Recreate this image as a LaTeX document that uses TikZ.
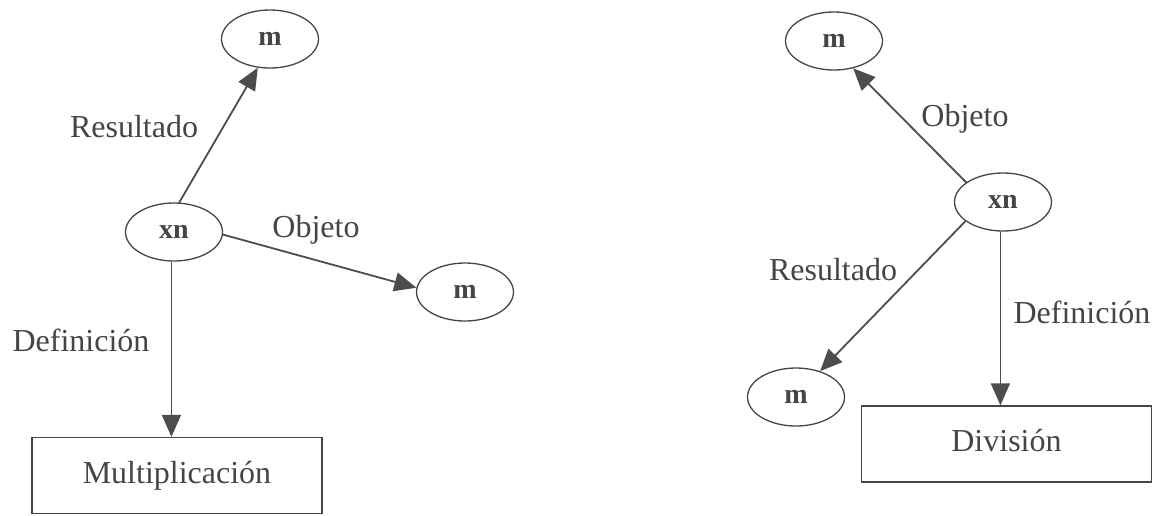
\documentclass[tikz,border=0pt]{standalone}
\usepackage{fontspec}
\setmainfont{Liberation Serif}
\usetikzlibrary{shapes.geometric,arrows.meta}
\definecolor{ink}{HTML}{454545}
\definecolor{wire}{HTML}{4d4d4d}
\tikzset{
  concept/.style={ellipse, draw=ink, line width=1.3pt, minimum width=97pt,
    minimum height=58pt, inner sep=0pt, text=ink,
    font=\fontsize{28}{32}\selectfont\bfseries},
  opbox/.style={rectangle, draw=ink, line width=1.3pt, minimum width=290pt,
    minimum height=76pt, inner sep=0pt, text=ink,
    font=\fontsize{32}{38}\selectfont},
  rel/.style={draw=wire, line width=1.8pt,
    -{Triangle[length=22pt, width=19pt]}},
  tag/.style={text=ink, inner sep=0pt, font=\fontsize{32}{38}\selectfont}
}
\begin{document}
\begin{tikzpicture}[x=1pt, y=-1pt]
  \useasboundingbox (0,0) rectangle (1159,515);

  % Multiplication: xn relates two m terms
  \node[concept] (xnA) at (174,232) {xn};
  \node[concept] (mA1) at (270,39) {m};
  \node[concept] (mA2) at (465,292) {m};
  \node[opbox] (mult) at (177,475.5) {\raisebox{7pt}{Multiplicación}};
  \draw[rel] (xnA.80) -- (mA1.247);
  \draw[rel] (xnA.-3) -- (mA2.175);
  \draw[rel] (xnA.265) -- (xnA.265 |- mult.north);
  \node[tag] at (134,127) {Resultado};
  \node[tag] at (316,230) {Objeto};
  \node[tag] at (81,340) {Definición};

  % Division: xn relates two m terms
  \node[concept] (xnB) at (1003,202) {xn};
  \node[concept] (mB1) at (834,41) {m};
  \node[concept] (mB2) at (796,397) {m};
  \node[opbox] (divi) at (1006.5,444) {\raisebox{7pt}{División}};
  \draw[rel] (xnB.152) -- (mB1.305);
  \draw[rel] (xnB.207) -- (mB2.47);
  \draw[rel] (xnB.265) -- (xnB.265 |- divi.north);
  \node[tag] at (965,119) {Objeto};
  \node[tag] at (833,270) {Resultado};
  \node[tag] at (1082,312) {Definición};
\end{tikzpicture}
\end{document}
